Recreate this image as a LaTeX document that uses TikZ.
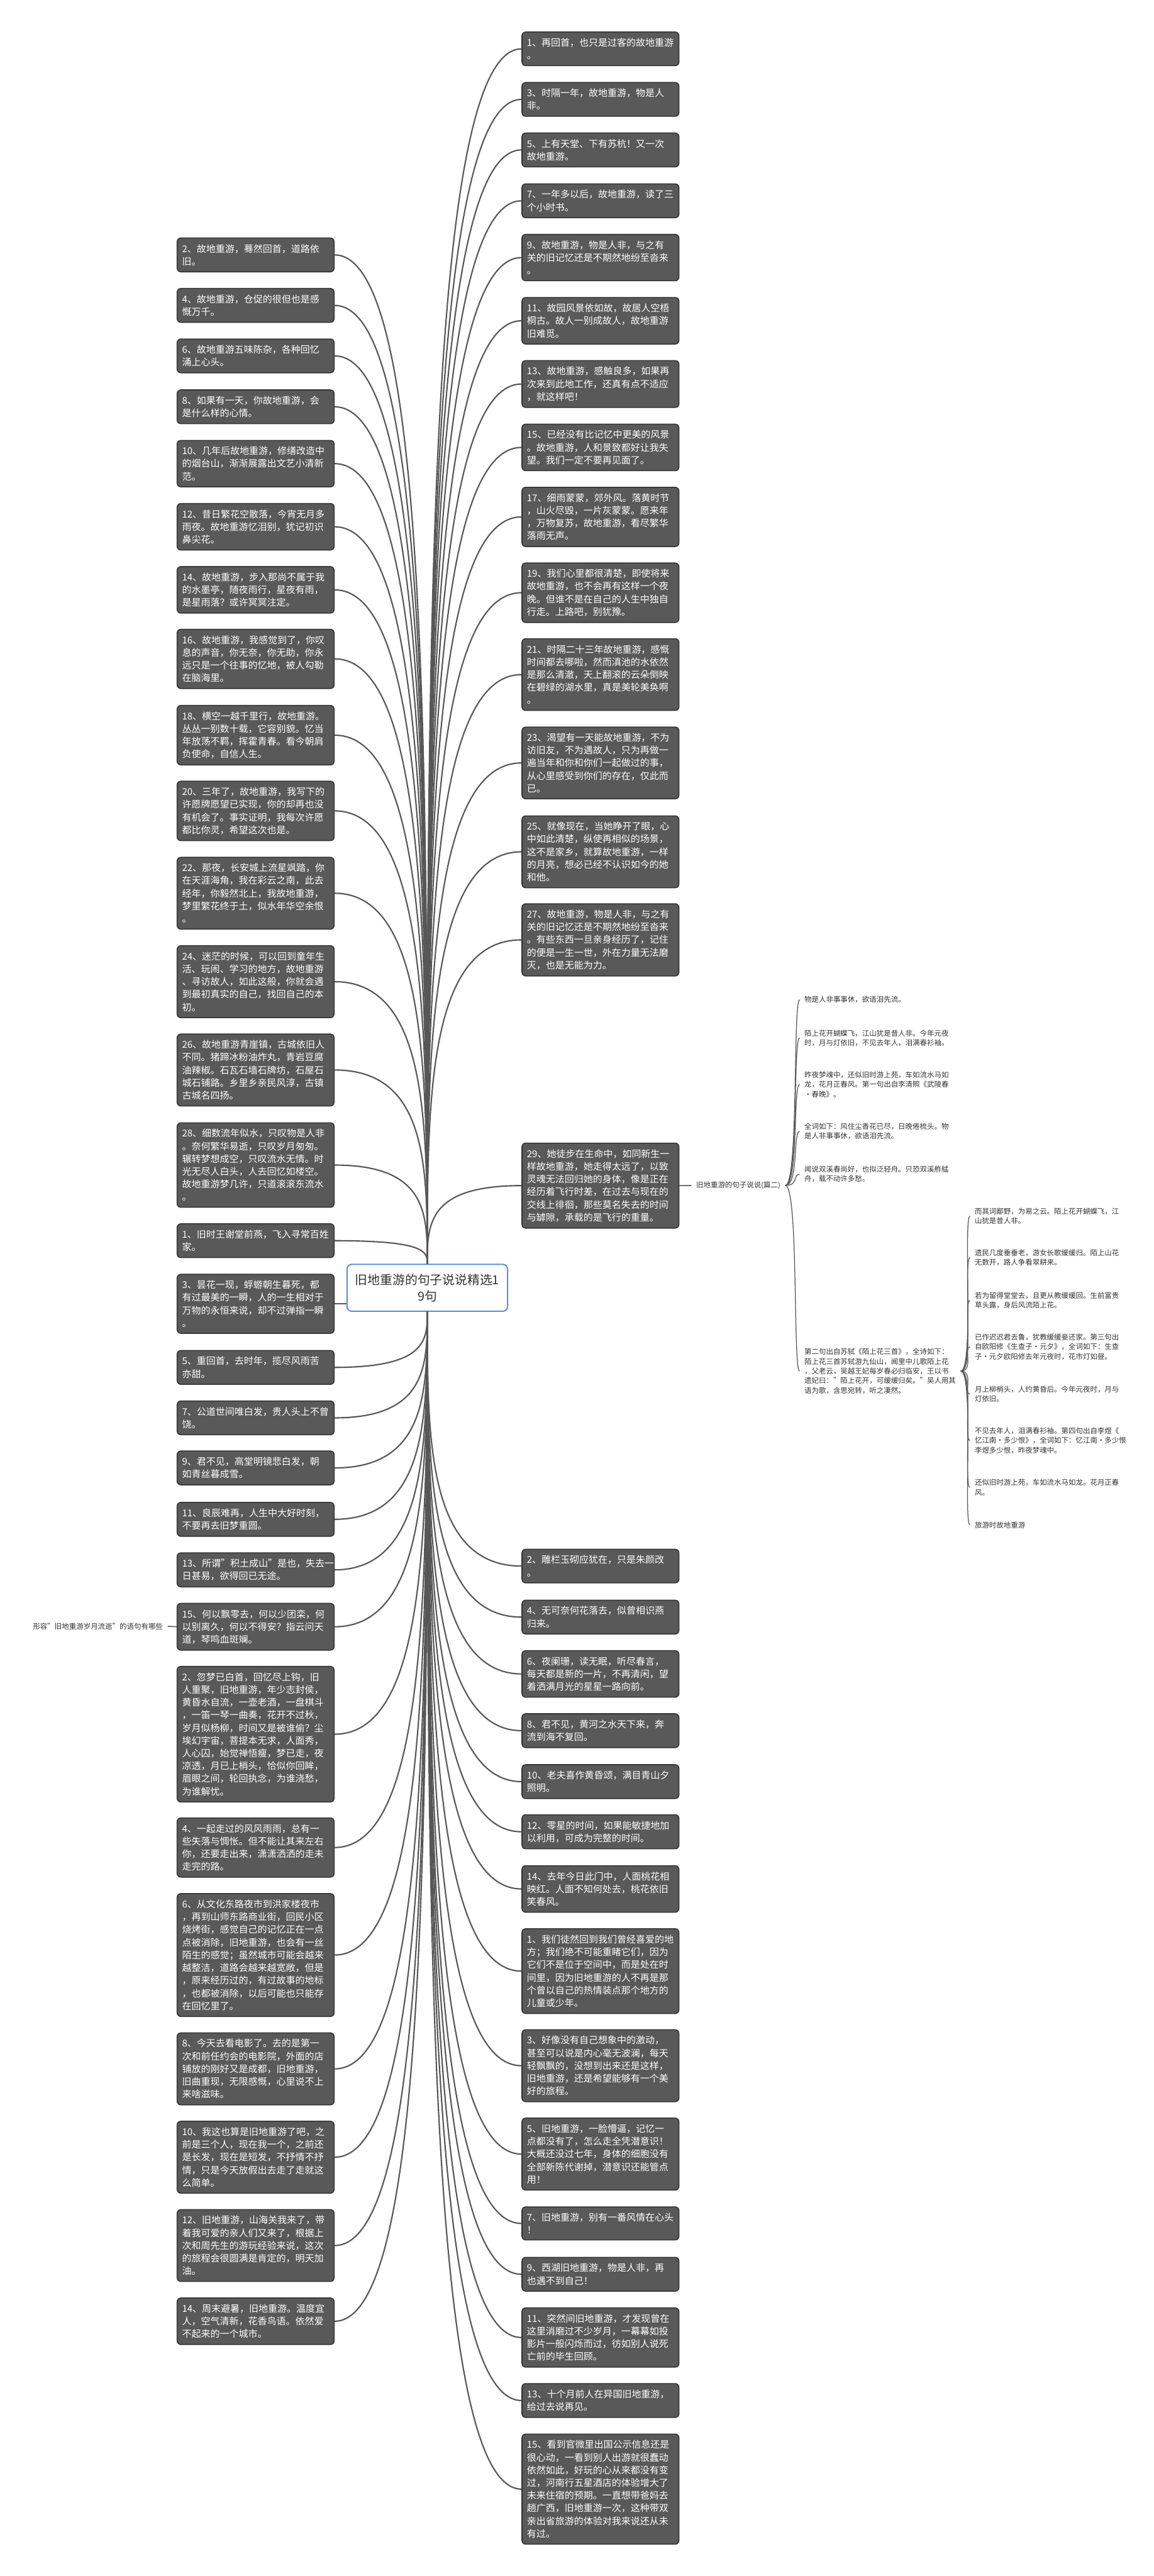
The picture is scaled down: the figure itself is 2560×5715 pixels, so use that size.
\documentclass[tikz,border=0pt]{standalone}
\usepackage{fontspec}
\setmainfont{Noto Sans CJK SC}
\usetikzlibrary{calc}
\definecolor{boxfill}{HTML}{595959}
\definecolor{boxline}{HTML}{333333}
\definecolor{linkgray}{HTML}{575757}
\definecolor{rootline}{HTML}{5B8FD9}
\definecolor{textdark}{HTML}{333333}

\begin{document}
\begin{tikzpicture}[x=0.01cm,y=-0.01cm,
  sent/.style={draw=boxline,fill=boxfill,text=white,line width=.6pt,rounded corners=2.3pt,
    anchor=north west,inner xsep=.11cm,inner ysep=3.9pt,text width=3.26cm,align=left,
    font=\fontsize{5.95}{8.02}\selectfont},
  root/.style={draw=rootline,fill=white,text=textdark,line width=.8pt,rounded corners=3pt,
    minimum width=3.56cm,minimum height=1.04cm,inner sep=0pt,align=center,
    font=\fontsize{7.86}{10.4}\selectfont},
  thin/.style={text=textdark,inner xsep=.1cm,inner ysep=0pt,align=left,
    font=\fontsize{4.55}{6.1}\selectfont},
  link/.style={draw=linkgray,line width=.85pt},
  twig/.style={draw=linkgray,line width=.5pt}]
\useasboundingbox (0,0) rectangle (2560,5715);
\fill[white] (0,0) rectangle (2560,5715);

% CENTRE
\node[root] (ctr) at (948,2857) {旧地重游的句子说说精选1\\9句};

% RIGHT, UPPER BRANCHES
\node[sent] (r1) at (1157,70) {1、再回首，也只是过客的故地重游\\。};
\node[sent] (r3) at (1157,182) {3、时隔一年，故地重游，物是人\\非。};
\node[sent] (r5) at (1157,294) {5、上有天堂、下有苏杭！又一次\\故地重游。};
\node[sent] (r7) at (1157,407) {7、一年多以后，故地重游，读了三\\个小时书。};
\node[sent] (r9) at (1157,519) {9、故地重游，物是人非，与之有\\关的旧记忆还是不期然地纷至沓来\\。};
\node[sent] (r11) at (1157,659) {11、故园风景依如故，故居人空梧\\桐古。故人一别成故人，故地重游\\旧难觅。};
\node[sent] (r13) at (1157,799) {13、故地重游，感触良多，如果再\\次来到此地工作，还真有点不适应\\，就这样吧！};
\node[sent] (r15) at (1157,940) {15、已经没有比记忆中更美的风景\\。故地重游，人和景致都好让我失\\望。我们一定不要再见面了。};
\node[sent] (r17) at (1157,1080) {17、细雨蒙蒙，郊外风。落黄时节\\，山火尽毁，一片灰蒙蒙。愿来年\\，万物复苏，故地重游，看尽繁华\\落雨无声。};
\node[sent] (r19) at (1157,1248) {19、我们心里都很清楚，即使将来\\故地重游，也不会再有这样一个夜\\晚。但谁不是在自己的人生中独自\\行走。上路吧，别犹豫。};
\node[sent] (r21) at (1157,1416) {21、时隔二十三年故地重游，感慨\\时间都去哪啦，然而滇池的水依然\\是那么清澈，天上翻滚的云朵倒映\\在碧绿的湖水里，真是美轮美奂啊\\。};
\node[sent] (r23) at (1157,1612) {23、渴望有一天能故地重游，不为\\访旧友，不为遇故人，只为再做一\\遍当年和你和你们一起做过的事，\\从心里感受到你们的存在，仅此而\\已。};
\node[sent] (r25) at (1157,1809) {25、就像现在，当她睁开了眼，心\\中如此清楚，纵使再相似的场景，\\这不是家乡，就算故地重游，一样\\的月亮，想必已经不认识如今的她\\和他。};
\node[sent] (r27) at (1157,2004) {27、故地重游，物是人非，与之有\\关的旧记忆还是不期然地纷至沓来\\。有些东西一旦亲身经历了，记住\\的便是一生一世，外在力量无法磨\\灭，也是无能为力。};
\node[sent] (r29) at (1157,2535) {29、她徒步在生命中，如同新生一\\样故地重游，她走得太远了，以致\\灵魂无法回归她的身体，像是正在\\经历着飞行时差，在过去与现在的\\交线上徘徊，那些莫名失去的时间\\与罅隙，承载的是飞行的重量。};

% RIGHT, LOWER BRANCHES
\node[sent] (rb2) at (1157,3436) {2、雕栏玉砌应犹在，只是朱颜改\\。};
\node[sent] (rb4) at (1157,3549) {4、无可奈何花落去，似曾相识燕\\归来。};
\node[sent] (rb6) at (1157,3661) {6、夜阑珊，读无眠，听尽春言，\\每天都是新的一片，不再清闲，望\\着洒满月光的星星一路向前。};
\node[sent] (rb8) at (1157,3801) {8、君不见，黄河之水天下来，奔\\流到海不复回。};
\node[sent] (rb10) at (1157,3914) {10、老夫喜作黄昏颂，满目青山夕\\照明。};
\node[sent] (rb12) at (1157,4025) {12、零星的时间，如果能敏捷地加\\以利用，可成为完整的时间。};
\node[sent] (rb14) at (1157,4138) {14、去年今日此门中，人面桃花相\\映红。人面不知何处去，桃花依旧\\笑春风。};
\node[sent] (rb1) at (1157,4278) {1、我们徒然回到我们曾经喜爱的地\\方；我们绝不可能重睹它们，因为\\它们不是位于空间中，而是处在时\\间里，因为旧地重游的人不再是那\\个曾以自己的热情装点那个地方的\\儿童或少年。};
\node[sent] (rb3) at (1157,4502) {3、好像没有自己想象中的激动，\\甚至可以说是内心毫无波澜，每天\\轻飘飘的，没想到出来还是这样，\\旧地重游，还是希望能够有一个美\\好的旅程。};
\node[sent] (rb5) at (1157,4698) {5、旧地重游，一脸懵逼，记忆一\\点都没有了，怎么走全凭潜意识！\\大概还没过七年，身体的细胞没有\\全部新陈代谢掉，潜意识还能管点\\用！};
\node[sent] (rb7) at (1157,4895) {7、旧地重游，别有一番风情在心头\\！};
\node[sent] (rb9) at (1157,5007) {9、西湖旧地重游，物是人非，再\\也遇不到自己！};
\node[sent] (rb11) at (1157,5119) {11、突然间旧地重游，才发现曾在\\这里消磨过不少岁月，一幕幕如投\\影片一般闪烁而过，彷如别人说死\\亡前的毕生回顾。};
\node[sent] (rb13) at (1157,5287) {13、十个月前人在异国旧地重游，\\给过去说再见。};
\node[sent] (rb15) at (1157,5399) {15、看到官微里出国公示信息还是\\很心动，一看到别人出游就很蠢动\\依然如此，好玩的心从来都没有变\\过，河南行五星酒店的体验增大了\\未来住宿的预期。一直想带爸妈去\\趟广西，旧地重游一次，这种带双\\亲出省旅游的体验对我来说还从未\\有过。};

% LEFT, FIRST SET
\node[sent] (l2) at (392,527) {2、故地重游，蓦然回首，道路依\\旧。};
\node[sent] (l4) at (392,639) {4、故地重游，仓促的很但也是感\\慨万千。};
\node[sent] (l6) at (392,751) {6、故地重游五味陈杂，各种回忆\\涌上心头。};
\node[sent] (l8) at (392,864) {8、如果有一天，你故地重游，会\\是什么样的心情。};
\node[sent] (l10) at (392,976) {10、几年后故地重游，修缮改造中\\的烟台山，渐渐展露出文艺小清新\\范。};
\node[sent] (l12) at (392,1116) {12、昔日繁花空散落，今宵无月多\\雨夜。故地重游忆泪别，犹记初识\\鼻尖花。};
\node[sent] (l14) at (392,1256) {14、故地重游，步入那尚不属于我\\的水墨亭，随夜雨行，星夜有雨，\\是星雨落？或许冥冥注定。};
\node[sent] (l16) at (392,1395) {16、故地重游，我感觉到了，你叹\\息的声音，你无奈，你无助，你永\\远只是一个往事的忆地，被人勾勒\\在脑海里。};
\node[sent] (l18) at (392,1564) {18、横空一越千里行，故地重游。\\丛丛一别数十载，它容别貌。忆当\\年放荡不羁，挥霍青春。看今朝肩\\负使命，自信人生。};
\node[sent] (l20) at (392,1732) {20、三年了，故地重游，我写下的\\许愿牌愿望已实现，你的却再也没\\有机会了。事实证明，我每次许愿\\都比你灵，希望这次也是。};
\node[sent] (l22) at (392,1901) {22、那夜，长安城上流星飒踏，你\\在天涯海角，我在彩云之南，此去\\经年，你毅然北上，我故地重游，\\梦里繁花终于土，似水年华空余恨\\。};
\node[sent] (l24) at (392,2097) {24、迷茫的时候，可以回到童年生\\活、玩闹、学习的地方，故地重游\\、寻访故人，如此这般，你就会遇\\到最初真实的自己，找回自己的本\\初。};
\node[sent] (l26) at (392,2293) {26、故地重游青崖镇，古城依旧人\\不同。猪蹄冰粉油炸丸，青岩豆腐\\油辣椒。石瓦石墙石牌坊，石屋石\\城石铺路。乡里乡亲民风淳，古镇\\古城名四扬。};
\node[sent] (l28) at (392,2490) {28、细数流年似水，只叹物是人非\\。奈何繁华易逝，只叹岁月匆匆。\\辗转梦想成空，只叹流水无情。时\\光无尽人白头，人去回忆如楼空。\\故地重游梦几许，只道滚滚东流水\\。};

% LEFT, SECOND SET
\node[sent] (lb1) at (392,2714) {1、旧时王谢堂前燕，飞入寻常百姓\\家。};
\node[sent] (lb3) at (392,2826) {3、昙花一现，蜉蝣朝生暮死，都\\有过最美的一瞬，人的一生相对于\\万物的永恒来说，却不过弹指一瞬\\。};
\node[sent] (lb5) at (392,2995) {5、重回首，去时年，揽尽风雨苦\\亦甜。};
\node[sent] (lb7) at (392,3107) {7、公道世间唯白发，贵人头上不曾\\饶。};
\node[sent] (lb9) at (392,3218) {9、君不见，高堂明镜悲白发，朝\\如青丝暮成雪。};
\node[sent] (lb11) at (392,3332) {11、良辰难再，人生中大好时刻，\\不要再去旧梦重圆。};
\node[sent] (lb13) at (392,3444) {13、所谓"积土成山"是也，失去一\\日甚易，欲得回已无途。};
\node[sent] (lb15) at (392,3556) {15、何以飘零去，何以少团栾，何\\以别离久，何以不得安？指云问天\\道，琴鸣血斑斓。};
\node[sent] (lb2) at (392,3696) {2、忽梦已白首，回忆尽上钩，旧\\人重聚，旧地重游，年少志封侯，\\黄昏水自流，一壶老酒，一盘棋斗\\，一笛一琴一曲奏，花开不过秋，\\岁月似杨柳，时间又是被谁偷？尘\\埃幻宇宙，菩提本无求，人面秀，\\人心囚，始觉禅悟瘦，梦已走，夜\\凉透，月已上梢头，恰似你回眸，\\眉眼之间，轮回执念，为谁浇愁，\\为谁解忧。};
\node[sent] (lb4) at (392,4032) {4、一起走过的风风雨雨，总有一\\些失落与惆怅。但不能让其来左右\\你，还要走出来，潇潇洒洒的走未\\走完的路。};
\node[sent] (lb6) at (392,4200) {6、从文化东路夜市到洪家楼夜市\\，再到山师东路商业街，回民小区\\烧烤街，感觉自己的记忆正在一点\\点被消除，旧地重游，也会有一丝\\陌生的感觉；虽然城市可能会越来\\越整洁，道路会越来越宽敞，但是\\，原来经历过的，有过故事的地标\\，也都被消除，以后可能也只能存\\在回忆里了。};
\node[sent] (lb8) at (392,4509) {8、今天去看电影了。去的是第一\\次和前任约会的电影院，外面的店\\铺放的刚好又是成都，旧地重游，\\旧曲重现，无限感慨，心里说不上\\来啥滋味。};
\node[sent] (lb10) at (392,4705) {10、我这也算是旧地重游了吧，之\\前是三个人，现在我一个，之前还\\是长发，现在是短发，不抒情不抒\\情，只是今天放假出去走了走就这\\么简单。};
\node[sent] (lb12) at (392,4901) {12、旧地重游，山海关我来了，带\\着我可爱的亲人们又来了，根据上\\次和周先生的游玩经验来说，这次\\的旅程会很圆满是肯定的，明天加\\油。};
\node[sent] (lb14) at (392,5097) {14、周末避暑，旧地重游。温度宜\\人，空气清新，花香鸟语。依然爱\\不起来的一个城市。};

% FAR LEFT TAG
\node[thin,anchor=east] (tag) at (372,3608) {形容"旧地重游岁月流逝"的语句有哪些};
\draw[twig,line width=.6pt] (lb15.west) -- (tag.east);

% SECOND PART, RIGHT OF 29
\node[thin,anchor=west] (part2) at (1534,2630) {旧地重游的句子说说(篇二)};
\node[thin,anchor=west] (c1) at (1774,2218) {物是人非事事休，欲语泪先流。};
\node[thin,anchor=west] (c2) at (1774,2303) {陌上花开蝴蝶飞，江山犹是昔人非。今年元夜\\时，月与灯依旧，不见去年人，泪满春衫袖。};
\node[thin,anchor=west] (c3) at (1774,2406) {昨夜梦魂中，还似旧时游上苑，车如流水马如\\龙，花月正春风。第一句出自李清照《武陵春\\·春晚》。};
\node[thin,anchor=west] (c4) at (1774,2510) {全词如下：风住尘香花已尽，日晚倦梳头。物\\是人非事事休，欲语泪先流。};
\node[thin,anchor=west] (c5) at (1774,2605) {闻说双溪春尚好，也拟泛轻舟。只恐双溪舴艋\\舟，载不动许多愁。};
\node[thin,anchor=west] (c6) at (1774,3042) {第二句出自苏轼《陌上花三首》，全诗如下：\\陌上花三首苏轼游九仙山，闻里中儿歌陌上花\\，父老云，吴越王妃每岁春必归临安，王以书\\遗妃曰："陌上花开，可缓缓归矣。"吴人用其\\语为歌，含思宛转，听之凄然。};
\node[thin,anchor=west] (g1) at (2152,2698) {而其词鄙野，为易之云。陌上花开蝴蝶飞，江\\山犹是昔人非。};
\node[thin,anchor=west] (g2) at (2152,2790) {遗民几度垂垂老，游女长歌缓缓归。陌上山花\\无数开，路人争看翠耕来。};
\node[thin,anchor=west] (g3) at (2152,2885) {若为留得堂堂去，且更从教缓缓回。生前富贵\\草头露，身后风流陌上花。};
\node[thin,anchor=west] (g4) at (2152,2988) {已作迟迟君去鲁，犹教缓缓妾还家。第三句出\\自欧阳修《生查子·元夕》，全词如下：生查\\子·元夕欧阳修去年元夜时，花市灯如昼。};
\node[thin,anchor=west] (g5) at (2152,3093) {月上柳梢头，人约黄昏后。今年元夜时，月与\\灯依旧。};
\node[thin,anchor=west] (g6) at (2152,3196) {不见去年人，泪满春衫袖。第四句出自李煜《\\忆江南·多少恨》，全词如下：忆江南·多少恨\\李煜多少恨，昨夜梦魂中。};
\node[thin,anchor=west] (g7) at (2152,3300) {还似旧时游上苑，车如流水马如龙。花月正春\\风。};
\node[thin,anchor=west] (g8) at (2152,3383) {旅游时故地重游};

% CONNECTORS FROM THE CENTRE
\foreach \n in {l2,l4,l6,l8,l10,l12,l14,l16,l18,l20,l22,l24,l26,l28,lb1}
  \draw[link] (\n.east) .. controls (ctr.north |- \n.east) and ($(ctr.north)!.5!(ctr.north |- \n.east)$) .. (ctr.north);
\foreach \n in {lb5,lb7,lb9,lb11,lb13,lb15,lb2,lb4,lb6,lb8,lb10,lb12,lb14}
  \draw[link] (\n.east) .. controls (ctr.south |- \n.east) and ($(ctr.south)!.5!(ctr.south |- \n.east)$) .. (ctr.south);
\draw[link] (lb3.east) -- (lb3.east -| ctr.west);
\foreach \n in {r1,r3,r5,r7,r9,r11,r13,r15,r17,r19,r21,r23,r25,r27,r29}
  \draw[link] (ctr.north) .. controls ($(ctr.north)!.5!(ctr.north |- \n.west)$) and (ctr.north |- \n.west) .. (\n.west);
\foreach \n in {rb2,rb4,rb6,rb8,rb10,rb12,rb14,rb1,rb3,rb5,rb7,rb9,rb11,rb13,rb15}
  \draw[link] (ctr.south) .. controls ($(ctr.south)!.5!(ctr.south |- \n.west)$) and (ctr.south |- \n.west) .. (\n.west);

% SECOND PART CONNECTORS
\draw[twig,line width=.6pt] (r29.east) -- (part2.west);
\foreach \n in {c1,c2,c3,c4,c5,c6}
  \draw[twig] (part2.east) .. controls +(30,0) and +(-15,0) .. (\n.west);
\foreach \n in {g1,g2,g3,g4,g5,g6,g7,g8}
  \draw[twig] (c6.east) .. controls +(30,0) and +(-15,0) .. (\n.west);
\end{tikzpicture}
\end{document}
